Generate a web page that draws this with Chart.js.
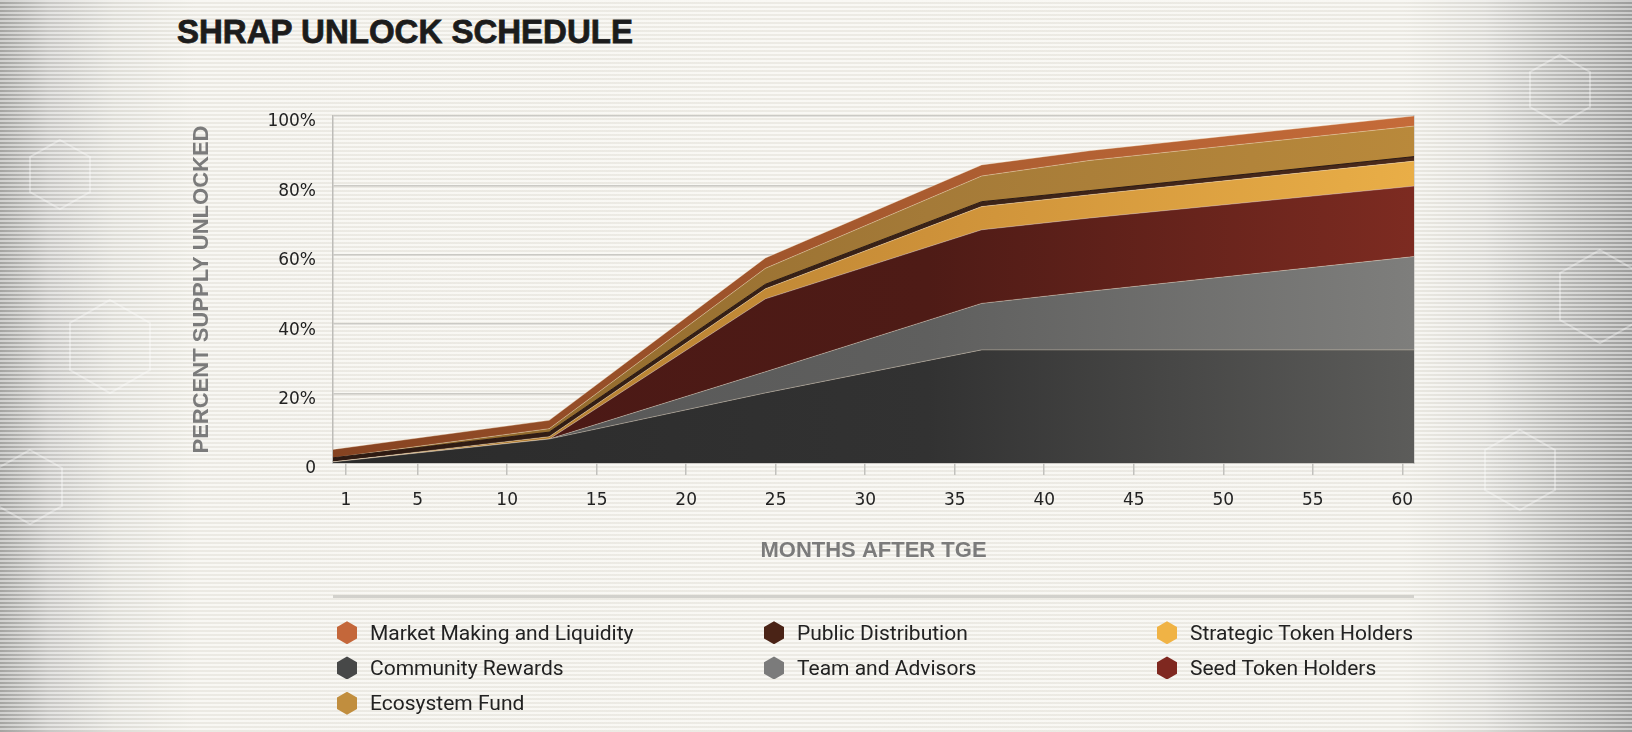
<!DOCTYPE html>
<html>
<head>
<meta charset="utf-8">
<script src="https://cdn.jsdelivr.net/npm/chart.js@4.4.0/dist/chart.umd.min.js"></script>
<style>
html, body { margin: 0; padding: 0; }
body {
    width: 1632px; height: 732px; overflow: hidden; position: relative;
    background:
        repeating-linear-gradient(180deg, rgba(255,255,255,0.45) 0px, rgba(255,255,255,0.45) 2px, rgba(0,0,0,0.03) 2px, rgba(0,0,0,0.03) 4px),
        linear-gradient(90deg, #a9a9a6 0%, #cfcecb 3%, #e6e5df 7%, #f3f1ea 12%, #f4f2eb 50%, #f3f1ea 86%, #e2e1dc 91%, #c3c3c0 95%, #a2a2a1 100%);
}
#deco { position: absolute; left: 0; top: 0; }
#title {
    position: absolute; left: 177px; top: 15px; margin: 0;
    font: bold 33px/33px "Liberation Sans", Arial, sans-serif;
    letter-spacing: 0; color: #1c1c1c;
    -webkit-text-stroke: 0.8px #1c1c1c;
}
#wrap { position: absolute; left: 0; top: 0; width: 1632px; height: 732px; }
#rule { position: absolute; left: 333px; top: 595px; width: 1081px; height: 3px; background: #d2d1cc; }
#legend {
    position: absolute; left: 337px; top: 615px;
    display: grid; grid-template-columns: 427px 393px auto; grid-auto-rows: 35.3px;
}
.item { display: flex; align-items: center; font: 21px Roboto, sans-serif; color: #222; }
.hex {
    width: 20px; height: 23px; margin-right: 13px;
    clip-path: polygon(50% 0, 100% 25%, 100% 75%, 50% 100%, 0 75%, 0 25%);
}
</style>
</head>
<body>
<svg id="deco" width="1632" height="732">
    <g fill="none" stroke="rgba(255,255,255,0.35)" stroke-width="2">
        <polygon points="1560,55 1590,72 1590,107 1560,124 1530,107 1530,72"/>
        <polygon points="1600,250 1640,273 1640,320 1600,343 1560,320 1560,273"/>
        <polygon points="1520,430 1555,450 1555,490 1520,510 1485,490 1485,450"/>
        <polygon points="110,300 150,323 150,370 110,393 70,370 70,323"/>
        <polygon points="30,450 62,468 62,506 30,524 -2,506 -2,468"/>
        <polygon points="60,140 90,157 90,192 60,209 30,192 30,157"/>
    </g>
</svg>
<h1 id="title">SHRAP UNLOCK SCHEDULE</h1>
<div id="wrap"><canvas id="unlockChart" width="1632" height="732"></canvas></div>
<div id="rule"></div>
<div id="legend"></div>
<script>
// months after TGE where the schedule changes slope
var months = [0, 12, 24, 36, 42, 60];

// % of total supply per allocation (stacked bottom to top)
var communityRewards = [0.3, 6.9, 20.2, 32.6, 32.6, 32.6];
var teamAdvisors = [0, 0, 6.1, 13.4, 16.9, 26.9];
var seedHolders = [0, 0, 21.0, 21.2, 21.1, 20.3];
var strategicHolders = [0, 0.7, 2.9, 6.7, 6.7, 7.2];
var publicDistribution = [1.2, 1.3, 1.3, 1.4, 1.2, 1.3];
var ecosystemFund = [0, 1.0, 4.6, 7.4, 8.7, 8.8];
var marketMaking = [2.4, 2.4, 3.0, 3.2, 2.8, 2.9];

var monthTicks = [1, 5, 10, 15, 20, 25, 30, 35, 40, 45, 50, 55, 60];
var percentTicks = [0, 20, 40, 60, 80, 100];

var series = [
    { label: "Community Rewards", values: communityRewards, swatch: "#474848", shade: ["#2b2b2b", "#323232", "#5c5c5a"] },
    { label: "Team and Advisors", values: teamAdvisors, swatch: "#7b7b7b", shade: ["#555555", "#5f5f5e", "#7e7e7c"] },
    { label: "Seed Token Holders", values: seedHolders, swatch: "#7f2820", shade: ["#4a1815", "#4e1b16", "#7d2b21"] },
    { label: "Strategic Token Holders", values: strategicHolders, swatch: "#f0b345", shade: ["#a8772f", "#cd9139", "#e9ae47"] },
    { label: "Public Distribution", values: publicDistribution, swatch: "#4a2316", shade: ["#2e1a12", "#3a2217", "#4b2a1b"] },
    { label: "Ecosystem Fund", values: ecosystemFund, swatch: "#c18e3e", shade: ["#8a6428", "#a47a38", "#b9893b"] },
    { label: "Market Making and Liquidity", values: marketMaking, swatch: "#c4673a", shade: ["#864321", "#aa5c30", "#c56b39"] }
];

var legendOrder = [
    "Market Making and Liquidity", "Public Distribution", "Strategic Token Holders",
    "Community Rewards", "Team and Advisors", "Seed Token Holders",
    "Ecosystem Fund"
];

function shadeFill(s) {
    return function (c) {
        var area = c.chart.chartArea;
        if (!area) return s.shade[1];
        var g = c.chart.ctx.createLinearGradient(area.left, 0, area.right, 0);
        g.addColorStop(0, s.shade[0]);
        g.addColorStop(0.55, s.shade[1]);
        g.addColorStop(1, s.shade[2]);
        return g;
    };
}

var datasets = series.map(function (s, i) {
    return {
        label: s.label,
        data: months.map(function (m, j) { return { x: m, y: s.values[j] }; }),
        fill: i === 0 ? "origin" : "-1",
        backgroundColor: shadeFill(s),
        borderColor: i === 4 ? "#2c1a12" : "rgba(255,235,210,0.35)",
        borderWidth: 1,
        pointRadius: 0,
        tension: 0
    };
});

var tickScale = 0.9937, tickShift = 0.272;
var gridGray = "#cbcac5";

var ctx = document.getElementById("unlockChart").getContext("2d");
var unlockChart = new Chart(ctx, {
    type: "line",
    data: { datasets: datasets },
    options: {
        responsive: false,
        animation: false,
        layout: { padding: { left: 189, right: 218, top: 116, bottom: 168 } },
        plugins: { legend: { display: false }, tooltip: { enabled: false } },
        scales: {
            x: {
                type: "linear", min: 0, max: 60,
                afterBuildTicks: function (axis) {
                    axis.ticks = monthTicks.map(function (m) { return { value: m * tickScale - tickShift }; });
                },
                afterFit: function (axis) { axis.height = 101; },
                grid: { drawOnChartArea: false, drawTicks: true, tickLength: 12, color: "#c2c1bd", lineWidth: 1.5 },
                border: { display: true, color: "#bdbcb8", width: 1.5 },
                ticks: {
                    autoSkip: false, maxRotation: 0, padding: 15, color: "#222",
                    font: { family: "DejaVu Sans", size: 17 },
                    callback: function (v, i) { return monthTicks[i]; }
                },
                title: {
                    display: true, text: "MONTHS AFTER TGE", color: "#7b7b7b", padding: 0,
                    font: { family: "Liberation Sans", size: 22, weight: "bold" }
                }
            },
            y: {
                stacked: true, min: 0, max: 100,
                afterBuildTicks: function (axis) {
                    axis.ticks = percentTicks.map(function (v) { return { value: v }; });
                },
                afterFit: function (axis) { axis.width = 144; },
                grid: { color: gridGray, lineWidth: 1.5, drawTicks: false },
                border: { display: true, color: "#bdbcb8", width: 1.5 },
                ticks: {
                    padding: 17, labelOffset: 6, color: "#222",
                    font: { family: "DejaVu Sans", size: 17 },
                    callback: function (v) { return v === 0 ? "0" : v + "%"; }
                },
                title: {
                    display: true, text: "PERCENT SUPPLY UNLOCKED", color: "#7b7b7b", padding: 0,
                    font: { family: "Liberation Sans", size: 22, weight: "bold" }
                }
            },
            y2: {
                position: "right", min: 0, max: 100,
                afterFit: function (axis) { axis.width = 0; },
                grid: { display: false },
                ticks: { display: false },
                border: { display: true, color: "#bdbcb8", width: 1.5 }
            }
        }
    }
});

// legend in three columns, same order as the original
var legendBox = document.getElementById("legend");
legendOrder.forEach(function (name) {
    var s = series.filter(function (d) { return d.label === name; })[0];
    var item = document.createElement("div");
    item.className = "item";
    var hex = document.createElement("span");
    hex.className = "hex";
    hex.style.background = s.swatch;
    item.appendChild(hex);
    item.appendChild(document.createTextNode(name));
    legendBox.appendChild(item);
});
</script>
</body>
</html>
